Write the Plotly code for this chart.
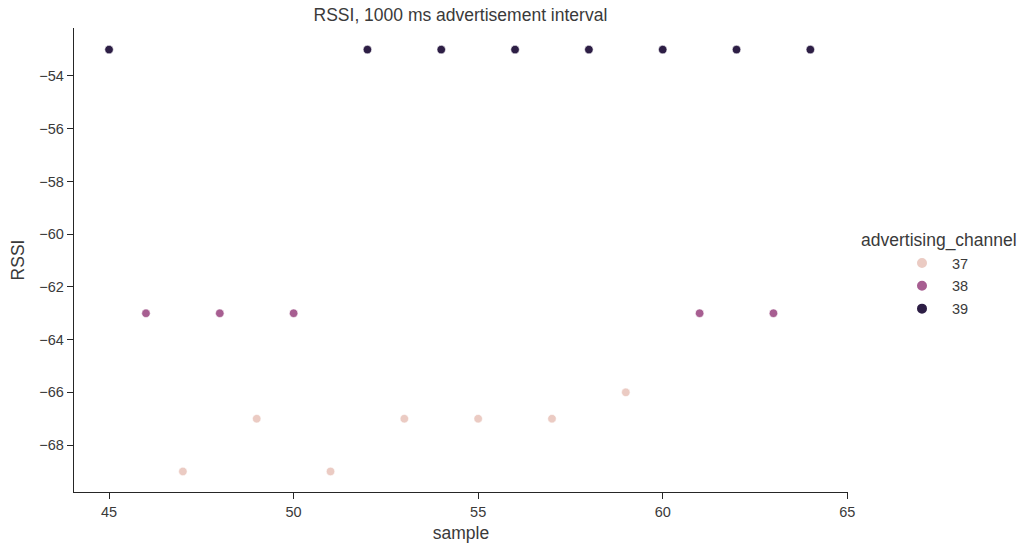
import plotly.graph_objects as go

channels = ["37", "38", "39"]
colors = {"37": "#ebcbc3", "38": "#a75e91", "39": "#2d1e45"}

ch37_sample = [47, 49, 51, 53, 55, 57, 59]
ch37_rssi = [-69, -67, -69, -67, -67, -67, -66]
ch38_sample = [46, 48, 50, 61, 63]
ch38_rssi = [-63, -63, -63, -63, -63]
ch39_sample = [45, 52, 54, 56, 58, 60, 62, 64]
ch39_rssi = [-53, -53, -53, -53, -53, -53, -53, -53]

data = {"37": (ch37_sample, ch37_rssi), "38": (ch38_sample, ch38_rssi), "39": (ch39_sample, ch39_rssi)}

FONT = "Liberation Sans, Arial, sans-serif"
TXT = "#3a3a3a"

fig = go.Figure()
for ch in channels:
    xs, ys = data[ch]
    fig.add_trace(go.Scatter(
        x=xs, y=ys, mode="markers", name=ch, legendgroup=ch,
        marker=dict(size=8.5, color=colors[ch], line=dict(color="white", width=0.6)),
    ))

axis_common = dict(
    showline=True, linecolor="#262626", linewidth=1.3, mirror=False,
    ticks="outside", ticklen=6, tickwidth=1.2, tickcolor="#262626",
    showgrid=False, zeroline=False, automargin=False,
    tickfont=dict(family=FONT, size=14.5, color=TXT),
    title_font=dict(family=FONT, size=17.5, color=TXT),
)

fig.update_layout(
    width=1022, height=544,
    paper_bgcolor="white", plot_bgcolor="white",
    margin=dict(l=74, r=174, t=28, b=52),
    title=dict(text="RSSI, 1000 ms advertisement interval", x=0.4505, xanchor="center",
               y=0.972, yanchor="middle",
               font=dict(family=FONT, size=17.5, color=TXT)),
    xaxis=dict(range=[44.05, 65.02], tickvals=[45, 50, 55, 60, 65], title=dict(text="sample", standoff=8), **axis_common),
    yaxis=dict(range=[-69.78, -52.18], tickvals=[-54, -56, -58, -60, -62, -64, -66, -68],
               ticktext=["\u221254", "\u221256", "\u221258", "\u221260", "\u221262", "\u221264", "\u221266", "\u221268"],
               title=dict(text="RSSI", standoff=10), **axis_common),
    legend=dict(
        font=dict(family=FONT, size=14.5, color=TXT),
        x=(892 - 74) / 774, xanchor="left", y=(492 - 247) / 464, yanchor="top",
        itemsizing="constant", tracegroupgap=1, bgcolor="rgba(0,0,0,0)",
        itemwidth=50,
    ),
    annotations=[dict(
        text="advertising_channel", x=(859 - 74) / 774, y=(492 - 240) / 464,
        xref="paper", yref="paper", xanchor="left", yanchor="middle", showarrow=False,
        font=dict(family=FONT, size=17.5, color=TXT),
    )],
)

fig.write_html("out.html", config={"displayModeBar": False},
               post_script="document.body.style.margin='0';document.body.style.padding='0';window.dispatchEvent(new Event('resize'));")
